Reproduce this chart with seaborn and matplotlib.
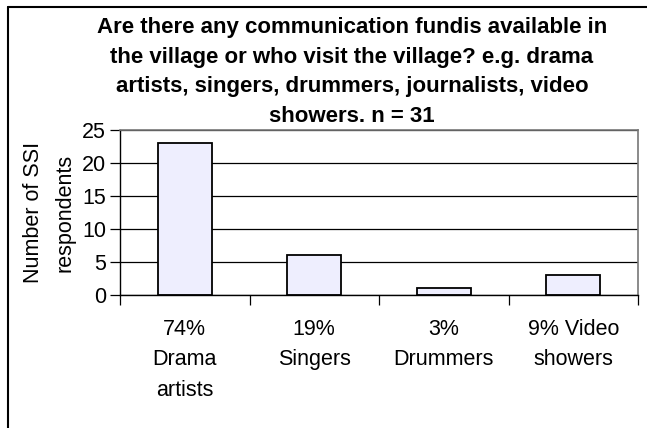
import matplotlib
matplotlib.use("Agg")
import matplotlib.pyplot as plt
import seaborn as sns
import pandas as pd
from matplotlib.lines import Line2D

categories = ["74%\nDrama\nartists", "19%\nSingers", "3%\nDrummers", "9% Video\nshowers"]
values = [23, 6, 1, 3]
yticks = [0, 5, 10, 15, 20, 25]
title = ("Are there any communication fundis available in\n"
         "the village or who visit the village? e.g. drama\n"
         "artists, singers, drummers, journalists, video\n"
         "showers. n = 31")
ylabel = "Number of SSI\nrespondents"

sns.set_style("white")
plt.rcParams['font.family'] = ['Liberation Sans', 'DejaVu Sans']
plt.rcParams['text.color'] = 'black'
plt.rcParams['axes.labelcolor'] = 'black'
plt.rcParams['xtick.color'] = 'black'
plt.rcParams['ytick.color'] = 'black'

df = pd.DataFrame({"cat": categories, "val": values})

fig = plt.figure(figsize=(6.47, 4.28), dpi=100)
ax = fig.add_axes([120/647, 1-295/428, (638-120)/647, (295-130)/428])

sns.barplot(data=df, x="cat", y="val", ax=ax, color="#EEEEFE",
            edgecolor="black", linewidth=1.3, width=0.42, saturation=1)

ax.set_xlim(-0.5, 3.5)
ax.set_ylim(0, 25)
ax.set_yticks(yticks)
ax.set_yticklabels([str(t) for t in yticks], fontsize=15.5)
ax.yaxis.grid(True, color="black", linewidth=0.9)
ax.set_axisbelow(True)
ax.tick_params(axis="y", direction="out", length=7, width=0.9, color="black", left=True, pad=3)

ax.set_xticks(range(len(categories)))
ax.set_xticklabels(categories, fontsize=15.5, linespacing=1.6)
ax.tick_params(axis="x", which="major", length=0, pad=17)
ax.set_xticks([-0.5, 0.5, 1.5, 2.5, 3.5], minor=True)
ax.tick_params(axis="x", which="minor", direction="out", length=7, width=0.9, color="black", bottom=True)

for s in ["left", "bottom"]:
    ax.spines[s].set_color("black")
    ax.spines[s].set_linewidth(1.0)
for s in ["top", "right"]:
    ax.spines[s].set_color("#777777")
    ax.spines[s].set_linewidth(1.2)

ax.set_xlabel("")
ax.set_ylabel(ylabel, fontsize=15.5, linespacing=1.65, labelpad=5)

fig.text(352/647, 1-72/428, title, ha="center", va="center", fontsize=16,
         fontweight="bold", linespacing=1.53)

fig.add_artist(Line2D([8/647, 8/647], [0, 1-7/428], transform=fig.transFigure,
                      color="black", linewidth=1.5))
fig.add_artist(Line2D([8/647, 1], [1-7/428, 1-7/428], transform=fig.transFigure,
                      color="black", linewidth=1.5))

fig.savefig("out.png", dpi=100)
